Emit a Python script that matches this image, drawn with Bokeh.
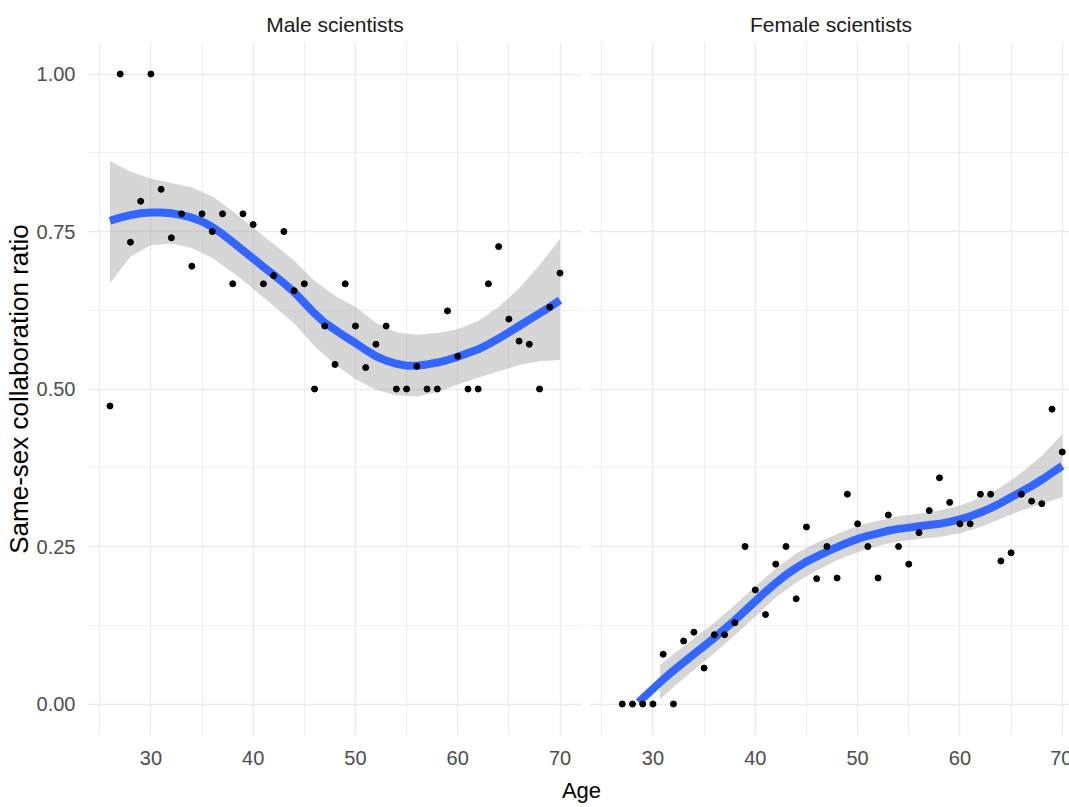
from bokeh.plotting import figure
from bokeh.layouts import row, column
from bokeh.models import Range1d, FixedTicker, NumeralTickFormatter
from bokeh.embed import file_html
from bokeh.resources import INLINE
from bokeh.core.properties import value

# ---------------- data ----------------
male_age = [26, 27, 28, 29, 30, 31, 32, 33, 34, 35, 36, 37, 38, 39, 40, 41, 42, 43, 44, 45,
            46, 47, 48, 49, 50, 51, 52, 53, 54, 55, 56, 57, 58, 59, 60, 61, 62, 63, 64, 65,
            66, 67, 68, 69, 70]
male_ratio = [0.473, 1.000, 0.733, 0.798, 1.000, 0.817, 0.740, 0.778, 0.695, 0.778, 0.750, 0.778,
              0.667, 0.778, 0.761, 0.667, 0.680, 0.750, 0.656, 0.667, 0.500, 0.600, 0.539, 0.667,
              0.600, 0.534, 0.571, 0.600, 0.500, 0.500, 0.536, 0.500, 0.500, 0.624, 0.552, 0.500,
              0.500, 0.667, 0.726, 0.611, 0.576, 0.571, 0.500, 0.630, 0.684]

male_fit_age = male_age
male_fit = [0.767, 0.772, 0.776, 0.779, 0.780, 0.780, 0.779, 0.776, 0.772, 0.766, 0.757, 0.746,
            0.733, 0.720, 0.707, 0.694, 0.681, 0.668, 0.654, 0.637, 0.620, 0.605, 0.594, 0.583,
            0.573, 0.562, 0.552, 0.545, 0.540, 0.537, 0.537, 0.539, 0.542, 0.546, 0.551, 0.557,
            0.563, 0.571, 0.580, 0.590, 0.600, 0.610, 0.620, 0.630, 0.641]

male_band_age = [26, 28, 30, 32, 34, 36, 38, 40, 42, 44, 46, 48, 50, 52, 54, 56, 58, 60, 62, 64, 66, 68, 70]
male_lo = [0.668, 0.710, 0.728, 0.731, 0.724, 0.708, 0.685, 0.659, 0.632, 0.604, 0.568, 0.539,
           0.516, 0.499, 0.490, 0.488, 0.495, 0.507, 0.518, 0.528, 0.538, 0.544, 0.546]
male_hi = [0.862, 0.845, 0.834, 0.827, 0.820, 0.806, 0.782, 0.756, 0.730, 0.704, 0.672, 0.648,
           0.630, 0.605, 0.590, 0.586, 0.589, 0.595, 0.608, 0.630, 0.660, 0.697, 0.738]

female_age = [27, 28, 29, 30, 31, 32, 33, 34, 35, 36, 37, 38, 39, 40, 41, 42, 43, 44, 45, 46,
              47, 48, 49, 50, 51, 52, 53, 54, 55, 56, 57, 58, 59, 60, 61, 62, 63, 64, 65, 66,
              67, 68, 69, 70]
female_ratio = [0.000, 0.000, 0.000, 0.000, 0.079, 0.000, 0.100, 0.114, 0.057, 0.110, 0.110, 0.129,
                0.250, 0.181, 0.142, 0.222, 0.250, 0.167, 0.281, 0.199, 0.250, 0.200, 0.333, 0.286,
                0.250, 0.200, 0.300, 0.250, 0.222, 0.272, 0.307, 0.359, 0.320, 0.286, 0.286, 0.333,
                0.333, 0.227, 0.240, 0.333, 0.322, 0.318, 0.468, 0.400]

female_fit_age = [28.6, 29, 30, 31, 32, 33, 34, 35, 36, 37, 38, 39, 40, 41, 42, 43, 44, 45, 46, 47,
                  48, 49, 50, 51, 52, 53, 54, 55, 56, 57, 58, 59, 60, 61, 62, 63, 64, 65, 66, 67,
                  68, 69, 70]
female_fit = [0.003, 0.009, 0.024, 0.039, 0.053, 0.066, 0.079, 0.092, 0.105, 0.119, 0.133, 0.148,
              0.163, 0.178, 0.192, 0.205, 0.216, 0.226, 0.234, 0.242, 0.249, 0.256, 0.262, 0.267,
              0.271, 0.275, 0.278, 0.280, 0.282, 0.284, 0.286, 0.289, 0.293, 0.298, 0.304, 0.311,
              0.319, 0.328, 0.337, 0.346, 0.356, 0.367, 0.378]

female_band_age = [30.7, 32, 34, 36, 38, 40, 42, 44, 46, 48, 50, 52, 54, 56, 58, 60, 62, 64, 66, 68, 70]
female_lo = [0.008, 0.027, 0.054, 0.081, 0.109, 0.139, 0.169, 0.193, 0.212, 0.228, 0.241, 0.251,
             0.258, 0.262, 0.265, 0.271, 0.281, 0.294, 0.307, 0.318, 0.328]
female_hi = [0.062, 0.079, 0.104, 0.129, 0.157, 0.187, 0.215, 0.239, 0.256, 0.270, 0.283, 0.291,
             0.298, 0.302, 0.307, 0.315, 0.327, 0.344, 0.367, 0.394, 0.428]

x_ticks = [30, 40, 50, 60, 70]
x_minor = [25, 35, 45, 55, 65]
y_ticks = [0.0, 0.25, 0.5, 0.75, 1.0]
y_minor = [0.125, 0.375, 0.625, 0.875]

panel_titles = ["Male scientists", "Female scientists"]
y_label = "Same-sex collaboration ratio"
x_label = "Age"

FONT = "Liberation Sans"
GRID = "#ebebeb"


def style(p, show_y):
    p.outline_line_color = None
    p.background_fill_color = "white"
    p.border_fill_color = "white"
    p.title.text_font = FONT
    p.title.text_font_size = "21px"
    p.title.text_font_style = "normal"
    p.title.text_color = "#1a1a1a"
    p.title.align = "center"
    p.title.standoff = 13
    for ax in (p.xaxis[0], p.yaxis[0]):
        ax.axis_line_color = None
        ax.major_tick_line_color = None
        ax.minor_tick_line_color = None
        ax.major_label_text_font = FONT
        ax.major_label_text_font_size = "20px"
        ax.major_label_text_color = "#4d4d4d"
    p.xaxis[0].ticker = FixedTicker(ticks=x_ticks, minor_ticks=x_minor)
    p.yaxis[0].ticker = FixedTicker(ticks=y_ticks, minor_ticks=y_minor)
    p.yaxis[0].formatter = NumeralTickFormatter(format="0.00")
    p.xaxis[0].major_label_standoff = 9
    p.yaxis[0].major_label_standoff = 6
    for g in (p.xgrid[0], p.ygrid[0]):
        g.grid_line_color = GRID
        g.grid_line_width = 1.3
        g.minor_grid_line_color = GRID
        g.minor_grid_line_width = 0.8
    if show_y:
        p.yaxis[0].axis_label = y_label
        p.yaxis[0].axis_label_text_font = FONT
        p.yaxis[0].axis_label_text_font_size = "26px"
        p.yaxis[0].axis_label_text_font_style = "normal"
        p.yaxis[0].axis_label_text_color = "black"
        p.yaxis[0].axis_label_standoff = 0
    else:
        p.yaxis[0].visible = False


y_range = Range1d(-0.05, 1.05)

p1 = figure(frame_width=495, frame_height=693, min_border_left=84, min_border_right=0,
            min_border_top=42, min_border_bottom=38,
            x_range=Range1d(23.8, 72.2), y_range=y_range,
            title=panel_titles[0], toolbar_location=None, output_backend="svg")
style(p1, True)
p1.varea(x=male_band_age, y1=male_lo, y2=male_hi, fill_color="#999999", fill_alpha=0.4)
p1.line(x=male_fit_age, y=male_fit, line_color="#3366FF", line_width=8, line_join="round")
p1.scatter(x=male_age, y=male_ratio, size=6, color="black")

p2 = figure(frame_width=483, frame_height=693, min_border_left=7, min_border_right=0,
            min_border_top=42, min_border_bottom=38,
            x_range=Range1d(23.8, 71.0), y_range=y_range,
            title=panel_titles[1], toolbar_location=None, output_backend="svg")
style(p2, False)
p2.varea(x=female_band_age, y1=female_lo, y2=female_hi, fill_color="#999999", fill_alpha=0.4)
p2.line(x=female_fit_age, y=female_fit, line_color="#3366FF", line_width=8, line_join="round")
p2.scatter(x=female_age, y=female_ratio, size=6, color="black")

p3 = figure(width=1069, height=34, x_range=Range1d(0, 1069), y_range=Range1d(0, 34),
            toolbar_location=None, output_backend="svg", min_border=0)
p3.axis.visible = False
p3.grid.visible = False
p3.outline_line_color = None
p3.text(x=[581], y=[17], text=[x_label], text_font=value(FONT), text_font_size="22px",
        text_align="center", text_baseline="middle", text_color="black")

layout = column(row(p1, p2, spacing=0), p3, spacing=0)

with open("out.html", "w") as f:
    f.write(file_html(layout, INLINE))
